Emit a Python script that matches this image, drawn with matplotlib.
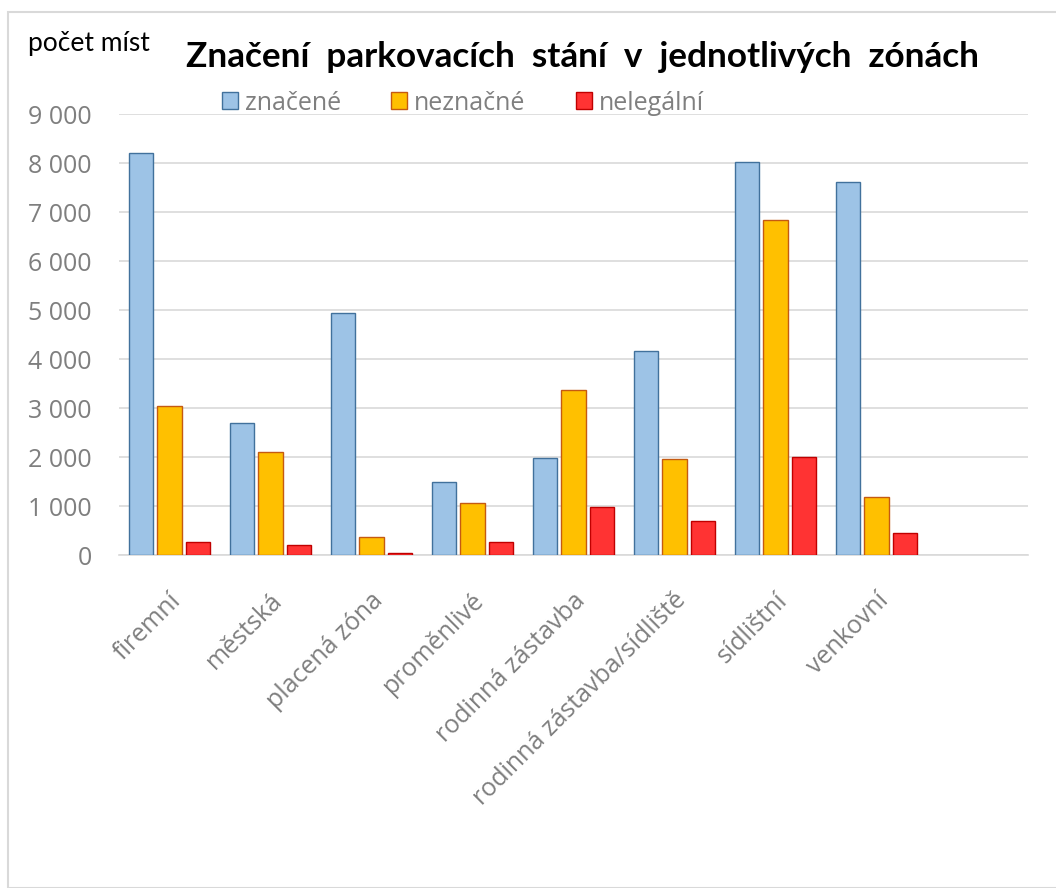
import numpy as np
import matplotlib.pyplot as plt
from matplotlib.patches import Rectangle
from matplotlib.transforms import ScaledTranslation

categories = ["firemní", "městská", "placená zóna", "proměnlivé", "rodinná zástavba",
              "rodinná zástavba/sídliště", "sídlištní", "venkovní", ""]
znacene = [8220, 2690, 4945, 1503, 1986, 4177, 8027, 7612, 0]
neznacne = [3050, 2110, 367, 1061, 3367, 1959, 6837, 1190, 0]
nelegalni = [265, 220, 55, 265, 993, 707, 2007, 456, 0]

series = [
    ("značené", znacene, "#9dc3e6", "#41719c"),
    ("neznačné", neznacne, "#ffc000", "#c55a11"),
    ("nelegální", nelegalni, "#ff3333", "#c00000"),
]

plt.rcParams["font.family"] = ["Open Sans", "DejaVu Sans"]

fig = plt.figure(figsize=(10.56, 8.88), dpi=100)
ax = fig.add_axes([119 / 1056, 1 - 555.3 / 888, (1028 - 119) / 1056, (555.3 - 114.3) / 888])

x = np.arange(len(categories))
width = 0.24
pitch = 0.28
handles = []
n = len(categories) - 1  # last slot stays empty like in the original
for i, (name, vals, fc, ec) in enumerate(series):
    b = ax.bar(x[:n] + (i - 1) * pitch, vals[:n], width, color=fc, edgecolor=ec,
               linewidth=1.0, label=name, zorder=3)
    handles.append(b)

ax.set_xlim(-0.5, len(categories) - 0.5)
ax.set_ylim(0, 9000)
ax.set_yticks(range(0, 9001, 1000))
ax.set_yticklabels([f"{v:,}".replace(",", " ") for v in range(0, 9001, 1000)],
                   fontsize=18, color="#7f7f7f")
ax.grid(axis="y", color="#d9d9d9", linewidth=1.2, zorder=0)
ax.tick_params(axis="both", length=0)
ax.tick_params(axis="y", pad=19.5)
for s in ["top", "right", "left"]:
    ax.spines[s].set_visible(False)
ax.spines["bottom"].set_color("#d9d9d9")
ax.spines["bottom"].set_linewidth(1.2)

ax.set_xticks(x)
ax.set_xticklabels(categories, rotation=45, ha="right", va="center",
                   rotation_mode="anchor", fontsize=18, color="#7f7f7f")
ax.tick_params(axis="x", pad=30)
shift = ScaledTranslation(8 / 100, 0, fig.dpi_scale_trans)
for lbl in ax.get_xticklabels():
    lbl.set_transform(lbl.get_transform() + shift)

fig.text(583 / 1056, 1 - 57 / 888, "Značení  parkovacích  stání  v  jednotlivých  zónách",
         ha="center", va="center", fontsize=25.3, fontweight="bold", color="black",
         family=["Lato", "DejaVu Sans"])
fig.text(28 / 1056, 1 - 44 / 888, "počet míst", ha="left", va="center",
         fontsize=19, color="black", family=["Lato", "DejaVu Sans"])

fig.legend(handles=handles, loc="center", bbox_to_anchor=(463 / 1056, 1 - 103 / 888),
           ncol=3, frameon=False, fontsize=18, labelcolor="#7f7f7f",
           handlelength=0.64, handleheight=0.64, handletextpad=0.28, columnspacing=2.0)

# light chart border
fig.patches.append(Rectangle((8 / 1056, 0), 1.2, 1 - 12.5 / 888, transform=fig.transFigure,
                             fill=False, edgecolor="#d9d9d9", linewidth=1.5))

fig.savefig("out.png", dpi=100)
